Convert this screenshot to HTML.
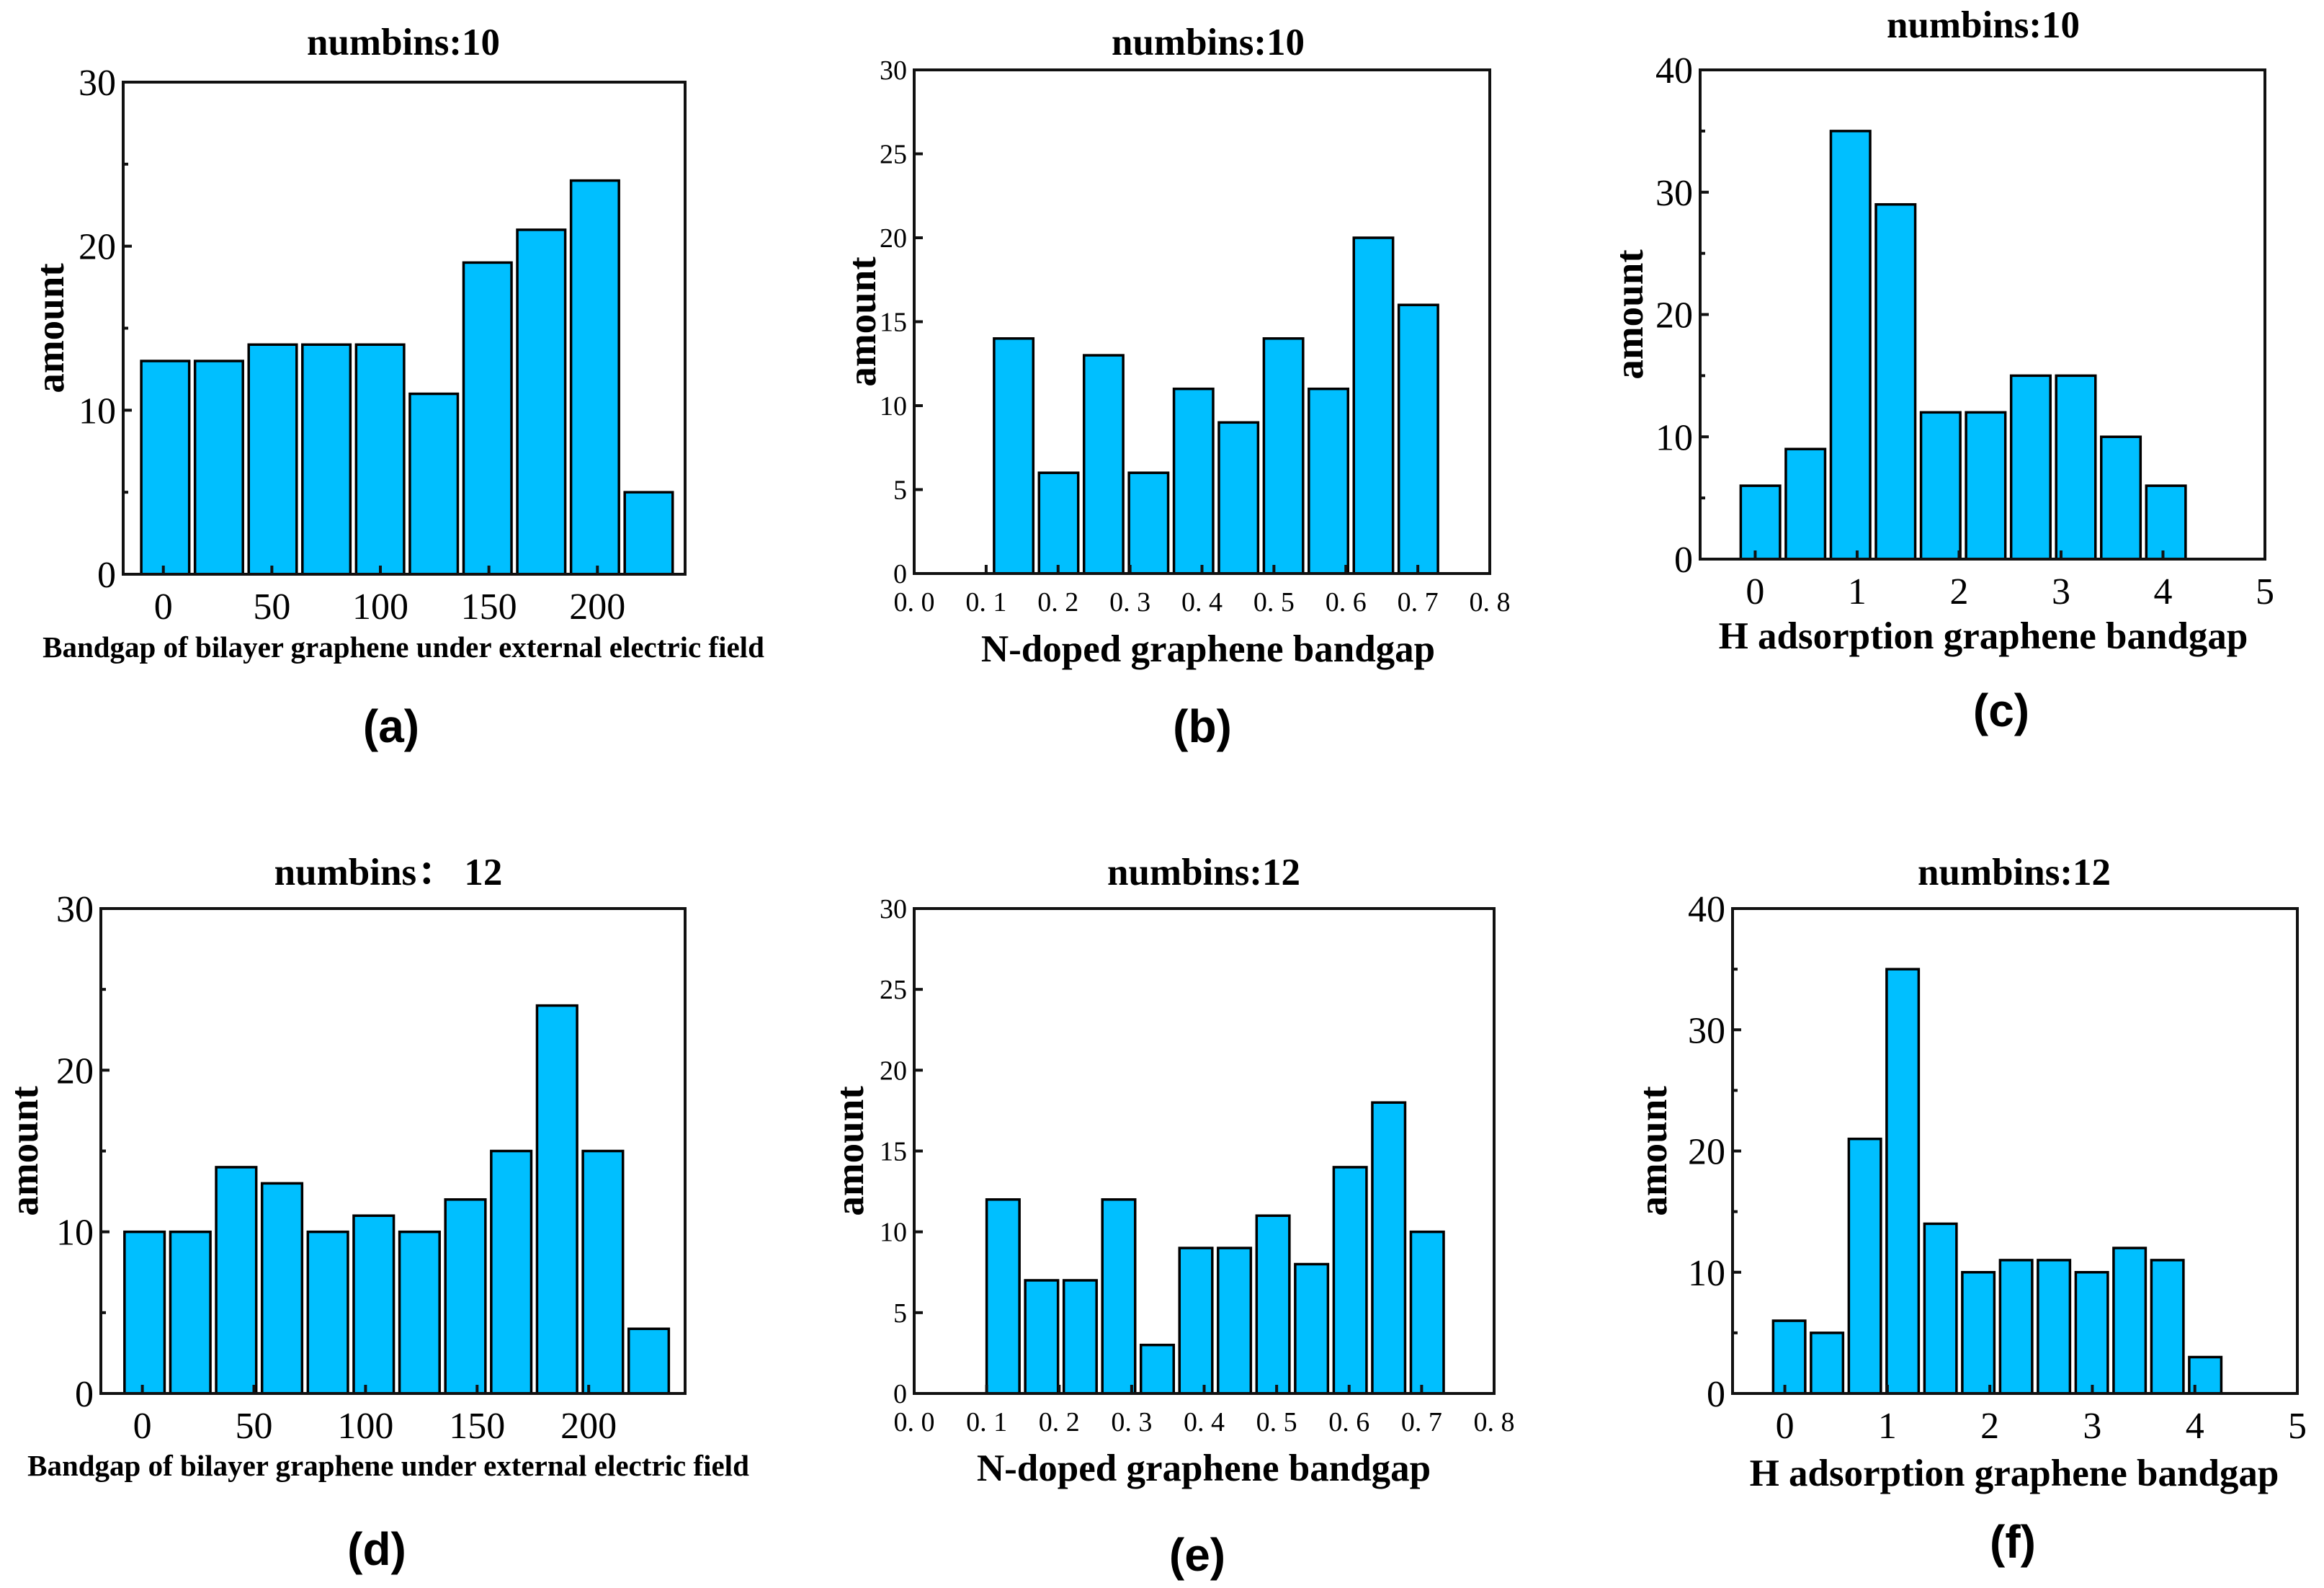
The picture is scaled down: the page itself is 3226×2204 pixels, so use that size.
<!DOCTYPE html>
<html><head><meta charset="utf-8">
<style>
html,body{margin:0;padding:0;background:#fff;}
svg{display:block;}
text{font-family:"Liberation Serif","Noto Serif CJK SC",serif;fill:#000;}
.ttl{font-weight:bold;font-size:53px;}
.ax{font-weight:bold;font-size:55px;}
.tick{font-size:52px;}
.tsm{font-size:38px;}
.xl{font-weight:bold;}
.pl{font-family:"Liberation Sans","DejaVu Sans",sans-serif;font-weight:bold;font-size:64px;}
</style></head>
<body>
<svg id="fig" width="3226" height="2204" viewBox="0 0 3226 2204" xmlns="http://www.w3.org/2000/svg"></svg>
<script>
// ---- data ----
const valsA = [13,13,14,14,14,11,19,21,24,5];
const valsB = [14,6,13,6,11,9,14,11,20,16];
const valsC = [6,9,35,29,12,12,15,15,10,6];
const valsD = [10,10,14,13,10,11,10,12,15,24,15,4];
const valsE = [12,7,7,12,3,9,9,11,8,14,18,10];
const valsF = [6,5,21,35,14,10,11,11,10,12,11,3];
const binStartA = -11.5, binWidthA = 24.75;
const binStartB = 0.107, binWidthB = 0.0625;
const binStartC = -0.17, binWidthC = 0.442;
const binStartD = -9.3, binWidthD = 20.54;
const binStartE = 0.096, binWidthE = 0.0532;
const binStartF = -0.142, binWidthF = 0.369;
const xTicksA = [0,50,100,150,200];
const xTicksB = [0,0.1,0.2,0.3,0.4,0.5,0.6,0.7,0.8];
const xTicksC = [0,1,2,3,4,5];
const yTicks30 = [0,10,20,30];
const yTicks30s = [0,5,10,15,20,25,30];
const yTicks40 = [0,10,20,30,40];

const NS="http://www.w3.org/2000/svg";
const svg=document.getElementById('fig');
function mk(tag,attrs,parent){const e=document.createElementNS(NS,tag);for(const k in attrs)e.setAttribute(k,attrs[k]);(parent||svg).appendChild(e);return e;}

const panels=[
 {id:'a',L:171,T:114,R:951,B:797,xmin:-18.5,xmax:240.4,ymax:30,vals:valsA,bs:binStartA,bw:binWidthA,xt:xTicksA,yt:yTicks30,ym:5,small:false,
  title:'numbins:10',tx:560,ty:76,xlab:'Bandgap of bilayer graphene under external electric field',xlx:560,xly:912,xls:41,ylx:88,pl:'(a)',plx:543,ply:1030},
 {id:'b',L:1269,T:97,R:2068,B:796,xmin:0,xmax:0.8,ymax:30,vals:valsB,bs:binStartB,bw:binWidthB,xt:xTicksB,yt:yTicks30s,ym:null,small:true,
  title:'numbins:10',tx:1677,ty:76,xlab:'N-doped graphene bandgap',xlx:1677,xly:918,xls:53,ylx:1215,pl:'(b)',plx:1669,ply:1030},
 {id:'c',L:2360,T:97,R:3144,B:776,xmin:-0.54,xmax:5,ymax:40,vals:valsC,bs:binStartC,bw:binWidthC,xt:xTicksC,yt:yTicks40,ym:5,small:false,
  title:'numbins:10',tx:2753,ty:52,xlab:'H adsorption graphene bandgap',xlx:2753,xly:900,xls:53,ylx:2280,pl:'(c)',plx:2778,ply:1008},
 {id:'d',L:140,T:1261,R:951,B:1934,xmin:-18.6,xmax:243.2,ymax:30,vals:valsD,bs:binStartD,bw:binWidthD,xt:xTicksA,yt:yTicks30,ym:5,small:false,
  title:'numbins： 12',tx:539,ty:1228,xlab:'Bandgap of bilayer graphene under external electric field',xlx:539,xly:2048,xls:41,ylx:52,pl:'(d)',plx:523,ply:2172},
 {id:'e',L:1269,T:1261,R:2074,B:1934,xmin:0,xmax:0.8,ymax:30,vals:valsE,bs:binStartE,bw:binWidthE,xt:xTicksB,yt:yTicks30s,ym:null,small:true,
  title:'numbins:12',tx:1671,ty:1228,xlab:'N-doped graphene bandgap',xlx:1671,xly:2055,xls:53,ylx:1198,pl:'(e)',plx:1662,ply:2180},
 {id:'f',L:2405,T:1261,R:3189,B:1934,xmin:-0.51,xmax:5,ymax:40,vals:valsF,bs:binStartF,bw:binWidthF,xt:xTicksC,yt:yTicks40,ym:5,small:false,
  title:'numbins:12',tx:2796,ty:1228,xlab:'H adsorption graphene bandgap',xlx:2796,xly:2062,xls:53,ylx:2313,pl:'(f)',plx:2794,ply:2162}
];

panels.forEach(p=>{
  const g=mk('g',{});
  
  
  const sx=v=>p.L+(v-p.xmin)/(p.xmax-p.xmin)*(p.R-p.L);
  const sy=v=>p.B-v/p.ymax*(p.B-p.T);
  p.vals.forEach((v,i)=>{
    const x0=sx(p.bs+i*p.bw), x1=sx(p.bs+(i+1)*p.bw);
    const r=mk('rect',{x:x0+4,y:sy(v),width:x1-x0-8,height:sy(0)-sy(v),fill:'#00BFFF',stroke:'#000','stroke-width':3.5},g);
    
    
  });
  const fr=mk('rect',{x:p.L,y:p.T,width:p.R-p.L,height:p.B-p.T,fill:'none',stroke:'#111','stroke-width':4},g);
  
  
  p.yt.forEach(v=>{
    mk('line',{x1:p.L,x2:p.L+12,y1:sy(v),y2:sy(v),stroke:'#111','stroke-width':4},g);
    const t=mk('text',{x:p.L-10,y:sy(v)+(p.small?13:18),'text-anchor':'end',class:p.small?'tsm':'tick'},g);
    t.textContent=String(v);
    
    
  });
  if(p.ym){
    for(let v=p.ym;v<p.ymax;v+=2*p.ym){
      mk('line',{x1:p.L,x2:p.L+7,y1:sy(v),y2:sy(v),stroke:'#111','stroke-width':4},g);
    }
  }
  p.xt.forEach(v=>{
    mk('line',{x1:sx(v),x2:sx(v),y1:p.B,y2:p.B-12,stroke:'#111','stroke-width':4},g);
    const t=mk('text',{x:sx(v),y:p.B+(p.small?52:62),'text-anchor':'middle',class:p.small?'tsm':'tick'},g);
    t.textContent=p.small?v.toFixed(1).replace('.','. '):String(v);
    
    
  });
  const tt=mk('text',{x:p.tx,y:p.ty,'text-anchor':'middle',class:'ttl'},g);
  tt.textContent=p.title;
  
  
  const xl=mk('text',{x:p.xlx,y:p.xly,'text-anchor':'middle',class:'xl','font-size':p.xls},g);
  xl.textContent=p.xlab;
  
  
  const cy=(p.T+p.B)/2;
  const yl=mk('text',{x:p.ylx,y:cy,'text-anchor':'middle',class:'ax',transform:'rotate(-90 '+p.ylx+' '+cy+')'},g);
  yl.textContent='amount';
  
  
  const pl=mk('text',{x:p.plx,y:p.ply,'text-anchor':'middle',class:'pl'},g);
  pl.textContent=p.pl;
  
  
});
</script>
</body></html>
